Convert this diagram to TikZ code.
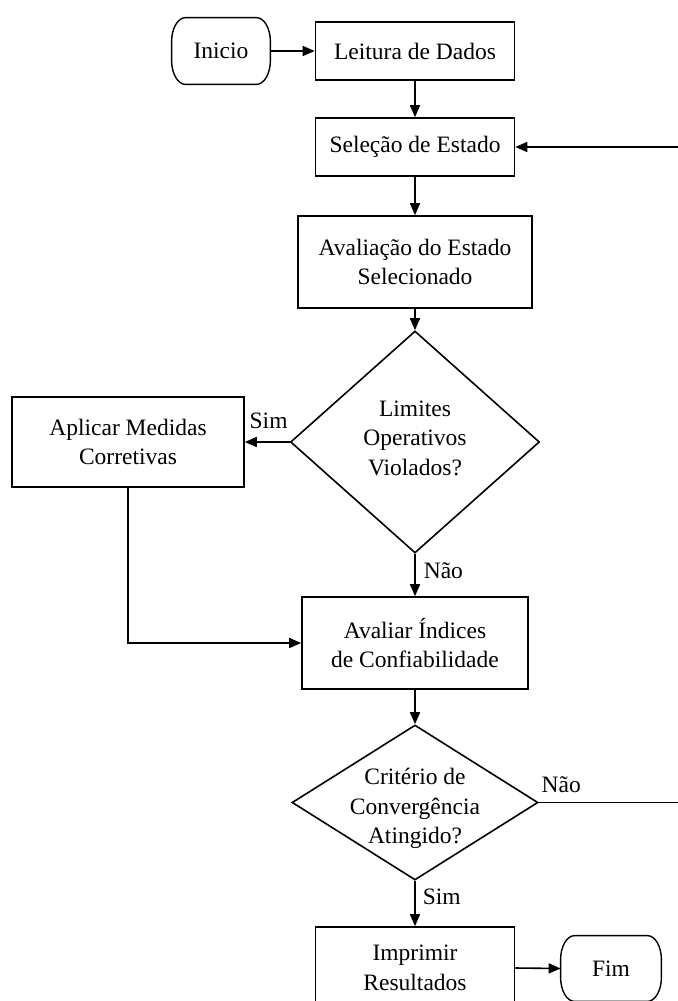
\documentclass[tikz,border=0pt]{standalone}
\usepackage{fontspec}
\setmainfont{Liberation Serif}
\usetikzlibrary{shapes.geometric,arrows.meta}
\begin{document}
\begin{tikzpicture}[x=0.5pt,y=-0.5pt,
  every node/.style={font=\fontsize{11.75}{14.75}\selectfont},
  procbox/.style={draw, rectangle, align=center, line width=0.8pt, inner sep=0pt},
  decision/.style={draw, diamond, inner sep=0pt, line width=0.8pt},
  terminal/.style={rectangle, align=center, inner sep=0pt},
  flow/.style={line width=0.8pt, -{Triangle[length=6pt,width=5pt]}},
  tag/.style={inner sep=0pt}]
\useasboundingbox (0,0) rectangle (678,1001);

% blocks
\node[terminal, minimum width=49pt, minimum height=33pt] (inicio) at (221,51) {Inicio};
\node[procbox, minimum width=99.5pt, minimum height=29pt] (leitura) at (415,51) {Leitura de Dados};
\node[procbox, minimum width=99.5pt, minimum height=29pt] (selecao) at (415,147) {Seleção de Estado};
\node[procbox, minimum width=117pt, minimum height=46pt] (avaliacao) at (415,262) {Avaliação do Estado\\Selecionado};
\node[decision, minimum width=124.5pt, minimum height=111pt,
  label={[align=center,yshift=2pt]center:{Limites\\Operativos\\Violados?}}] (limites) at (415,442) {};
\node[procbox, minimum width=116pt, minimum height=45pt] (aplicar) at (128,442) {Aplicar Medidas\\Corretivas};
\node[procbox, minimum width=113pt, minimum height=46pt] (indices) at (415,643) {Avaliar Índices\\de Confiabilidade};
\node[decision, minimum width=123pt, minimum height=77.5pt,
  label={[align=center,yshift=-3pt]center:{Critério de\\Convergência\\Atingido?}}] (criterio) at (415,802.5) {};
\node[procbox, minimum width=99.5pt, minimum height=41pt] (imprimir) at (415,968) {Imprimir\\Resultados};
\node[terminal, minimum width=50pt, minimum height=32.5pt] (fim) at (611,968.5) {Fim};

% terminator outlines with elliptical corners
\foreach \t in {inicio,fim}
  \draw[line width=0.7pt]
    ([xshift=7pt]\t.north west) -- ([xshift=-7pt]\t.north east)
    arc[start angle=90, end angle=0, x radius=7pt, y radius=12pt]
    -- ([yshift=12pt]\t.south east)
    arc[start angle=0, end angle=-90, x radius=7pt, y radius=12pt]
    -- ([xshift=7pt]\t.south west)
    arc[start angle=270, end angle=180, x radius=7pt, y radius=12pt]
    -- ([yshift=-12pt]\t.north west)
    arc[start angle=180, end angle=90, x radius=7pt, y radius=12pt]
    -- cycle;

% connectors
\draw[flow] (inicio.east) -- (leitura.west);
\draw[flow] (leitura.south) -- (selecao.north);
\draw[flow] (selecao.south) -- (avaliacao.north);
\draw[flow] (avaliacao.south) -- (limites.north);
\draw[flow] (limites.west) -- node[tag, pos=0.47, anchor=base, yshift=7pt] {Sim} (aplicar.east);
\draw[flow] (limites.south) -- node[tag, pos=0.58, anchor=base west, xshift=4pt] {Não} (indices.north);
\draw[flow] (aplicar.south) |- (indices.west);
\draw[flow] (indices.south) -- (criterio.north);
\draw[flow] (criterio.east) -- node[tag, pos=0, anchor=base west, xshift=1pt, yshift=5pt] {Não} ++(142,0) |- (selecao.east);
\draw[flow] (criterio.south) -- node[tag, pos=0.53, anchor=base west, xshift=3.5pt] {Sim} (imprimir.north);
\draw[flow] (imprimir.east) -- (fim.west);
\end{tikzpicture}
\end{document}
